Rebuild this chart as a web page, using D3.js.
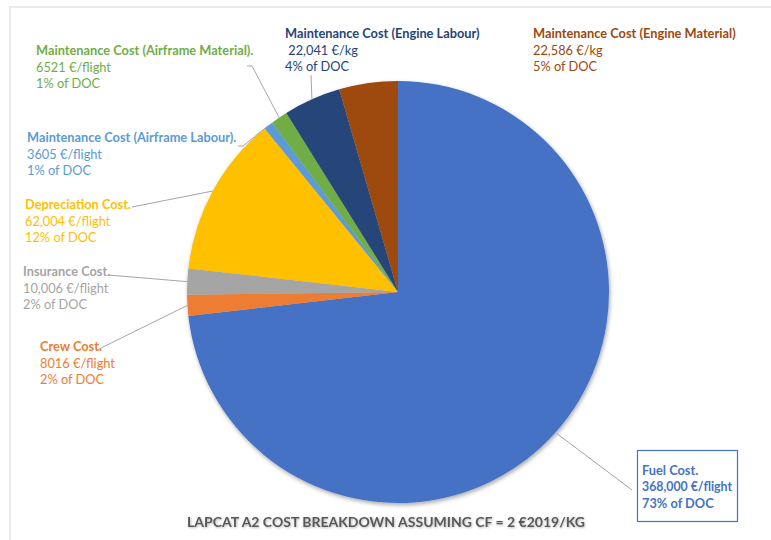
<!DOCTYPE html>
<html><head><meta charset="utf-8">
<script src="https://cdn.jsdelivr.net/npm/d3@7"></script>
<style>html,body{margin:0;padding:0;background:#fff;}svg{display:block;}</style>
</head><body>
<svg id="chart" width="771" height="540"></svg>
<script>
// ---- data ----
const categories = ["Fuel Cost.", "Crew Cost.", "Insurance Cost.", "Depreciation Cost.",
  "Maintenance Cost (Airframe Labour).", "Maintenance Cost (Airframe Material).",
  "Maintenance Cost (Engine Labour)", "Maintenance Cost (Engine Material)"];
const values = [368000, 8016, 10006, 62004, 3605, 6521, 22041, 22586];
const valueLabels = ["368,000 €/flight", "8016 €/flight", "10,006 €/flight", "62,004 €/flight",
  "3605 €/flight", "6521 €/flight", " 22,041 €/kg", "22,586 €/kg"];
const percentLabels = ["73% of DOC", "2% of DOC", "2% of DOC", "12% of DOC",
  "1% of DOC", "1% of DOC", "4% of DOC", "5% of DOC"];
const title = "LAPCAT A2 COST BREAKDOWN ASSUMING CF = 2 €2019/KG";

// ---- styles / layout ----
const colors = ["#4472C4", "#ED7D31", "#A5A5A5", "#FFC000", "#5B9BD5", "#70AD47", "#264478", "#9E480E"];
const textColors = ["#4472C4", "#ED7D31", "#A5A5A5", "#FFC000", "#5B9BD5", "#70AD47", "#264478", "#9E480E"];
const labelPos = [ [642, 474.5], [40, 351], [23, 276], [25, 209], [27, 142], [36, 55], [285, 38], [533, 38] ];
// leader start points (null = no leader); may contain an elbow
const leaderStart = [ [[632, 490]], [[97, 350]], [[108, 275]], [[132, 207]],
  [[238, 146], [243, 146]], [[247, 66], [252, 66]], [[311, 75]], null ];
const cx = 398, cy = 292, R = 211;
const lineH = 16.7;

const svg = d3.select("#chart");
const defs = svg.append("defs");
const f = defs.append("filter").attr("id", "shadow").attr("x", "-10%").attr("y", "-10%").attr("width", "120%").attr("height", "120%");
f.append("feDropShadow").attr("dx", 1).attr("dy", 2).attr("stdDeviation", 2.2).attr("flood-color", "#000").attr("flood-opacity", 0.35);
const f2 = defs.append("filter").attr("id", "tshadow").attr("x", "-5%").attr("y", "-30%").attr("width", "110%").attr("height", "160%");
f2.append("feDropShadow").attr("dx", 0.8).attr("dy", 0.8).attr("stdDeviation", 0.8).attr("flood-color", "#000").attr("flood-opacity", 0.3);

// outer frame
svg.append("rect").attr("x", 10).attr("y", 7).attr("width", 800).attr("height", 600)
  .attr("fill", "none").attr("stroke", "#e3e3e3").attr("stroke-width", 1.5);

// pie
const data = categories.map((c, i) => ({ name: c, value: values[i], i }));
const pie = d3.pie().value(d => d.value).sort(null);
const arcs = pie(data);
const arc = d3.arc().innerRadius(0).outerRadius(R);
const g = svg.append("g").attr("transform", `translate(${cx},${cy})`);
g.append("g").attr("filter", "url(#shadow)")
  .selectAll("path").data(arcs).join("path")
  .attr("d", arc).attr("fill", d => colors[d.data.i]);

// leader lines
arcs.forEach(a => {
  const st = leaderStart[a.data.i];
  if (!st) return;
  const mid = (a.startAngle + a.endAngle) / 2;
  const end = [cx + R * Math.sin(mid), cy - R * Math.cos(mid)];
  const pts = st.concat([end]);
  svg.append("path").attr("d", d3.line()(pts)).attr("fill", "none")
    .attr("stroke", "#a6a6a6").attr("stroke-width", 1);
});

// fit label font to the reference width
const family = "Lato, 'Open Sans', sans-serif";
const probe = svg.append("text").attr("font-family", family).attr("font-size", 12).attr("font-weight", "bold")
  .text(categories[7]);
const fs = 12 * 203 / probe.node().getComputedTextLength();
probe.remove();

// fuel box
svg.append("rect").attr("x", 637.5).attr("y", 450.5).attr("width", 100).attr("height", 71)
  .attr("fill", "#fff").attr("stroke", "#4472C4").attr("stroke-width", 1.2);

// labels
data.forEach(d => {
  const [x, y] = labelPos[d.i];
  const isFuel = d.i === 0;
  const t = svg.append("text").attr("x", x).attr("y", y).attr("font-family", family)
    .attr("font-size", fs).attr("fill", textColors[d.i]);
  [categories[d.i], valueLabels[d.i], percentLabels[d.i]].forEach((s, k) => {
    const ts = t.append("tspan").attr("x", x).attr("y", y + k * lineH).text(s)
      .attr("font-weight", (k === 0 || isFuel) ? "bold" : "normal")
      .attr("xml:space", "preserve").style("white-space", "pre");
    if (isFuel) {
      const w = ts.node().getComputedTextLength();
      if (w > 90) ts.attr("textLength", 90).attr("lengthAdjust", "spacingAndGlyphs");
    }
  });
});

// title
const tt = svg.append("text").attr("x", 386).attr("y", 527).attr("text-anchor", "middle")
  .attr("font-family", family).attr("font-weight", "bold").attr("font-size", 15)
  .attr("fill", "#595959").attr("filter", "url(#tshadow)").text(title);
const tw = tt.node().getComputedTextLength();
tt.attr("font-size", 15 * 398 / tw);
</script>
</body></html>
